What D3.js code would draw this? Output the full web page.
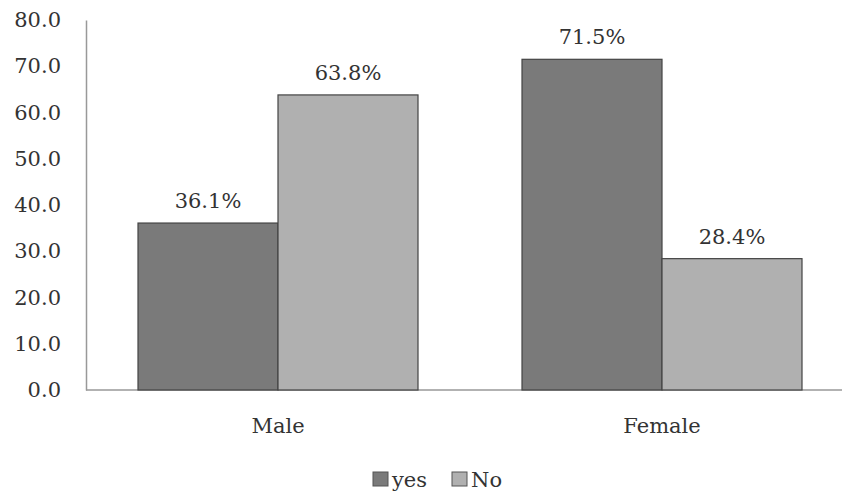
<!DOCTYPE html>
<html>
<head>
<meta charset="utf-8">
<script src="https://cdn.jsdelivr.net/npm/d3@7"></script>
<style>
  body { margin: 0; background: #fff; }
</style>
</head>
<body>
<div id="graph"></div>
<script>
var categories = ['Male', 'Female']
var seriesNames = ['yes', 'No']
var yesValues = [36.1, 71.5]
var noValues = [63.8, 28.4]
var yTicks = [0, 10, 20, 30, 40, 50, 60, 70, 80]

var colors = {yes: '#7a7a7a', No: '#b0b0b0'}
var font = '"DejaVu Serif", serif'

var width = 842, height = 499
var margin = {top: 20, left: 86, right: -12, bottom: 109}

var svg = d3.select('#graph').append('svg')
  .attr('width', width).attr('height', height)
  .attr('font-family', font)

var x = d3.scaleBand()
  .domain(categories)
  .range([margin.left, width - margin.right])

var x1 = d3.scaleBand()
  .domain(seriesNames)
  .range([0, 280])

var y = d3.scaleLinear()
  .domain([0, 80])
  .range([height - margin.bottom, margin.top])

var rows = categories.map((c, i) => ({
  cat: c,
  vals: [{s: 'yes', v: yesValues[i]}, {s: 'No', v: noValues[i]}]
}))

// axes
var yAxis = d3.axisLeft(y).tickValues(yTicks).tickFormat(d3.format('.1f')).tickSize(0).tickPadding(25)
var yg = svg.append('g').attr('transform', 'translate(' + margin.left + ',0)').call(yAxis)
yg.attr('font-family', font)
yg.select('.domain').attr('stroke', '#999').attr('stroke-width', 1.5)
yg.selectAll('text').attr('font-size', 21).attr('fill', '#333')

svg.append('line')
  .attr('x1', margin.left).attr('x2', width)
  .attr('y1', y(0)).attr('y2', y(0))
  .attr('stroke', '#999').attr('stroke-width', 1.5)

var g = svg.selectAll('g.cat').data(rows).enter().append('g')
  .attr('class', 'cat')
  .attr('transform', d => 'translate(' + (x(d.cat) + x.bandwidth() / 2 - 140) + ',0)')

g.selectAll('rect').data(d => d.vals).enter().append('rect')
  .attr('x', d => x1(d.s))
  .attr('width', x1.bandwidth())
  .attr('y', d => y(d.v))
  .attr('height', d => y(0) - y(d.v))
  .attr('fill', d => colors[d.s])
  .attr('stroke', '#444')
  .attr('stroke-width', 1.2)

g.selectAll('text.val').data(d => d.vals).enter().append('text')
  .attr('class', 'val')
  .attr('x', d => x1(d.s) + x1.bandwidth() / 2)
  .attr('y', d => y(d.v) - 15)
  .attr('text-anchor', 'middle')
  .attr('font-size', 21)
  .attr('fill', '#333')
  .text(d => d.v.toFixed(1) + '%')

svg.selectAll('text.cat').data(categories).enter().append('text')
  .attr('class', 'cat')
  .attr('x', d => x(d) + x.bandwidth() / 2)
  .attr('y', y(0) + 43)
  .attr('text-anchor', 'middle')
  .attr('font-size', 21)
  .attr('fill', '#333')
  .text(d => d)

// legend
var leg = svg.append('g').attr('transform', 'translate(373,472)')
var legX = [0, 79]
seriesNames.forEach((s, i) => {
  leg.append('rect')
    .attr('x', legX[i]).attr('y', 0)
    .attr('width', 15).attr('height', 14)
    .attr('fill', colors[s]).attr('stroke', '#555')
  leg.append('text')
    .attr('x', legX[i] + 19).attr('y', 15)
    .attr('font-size', 21)
    .attr('fill', '#333')
    .text(s)
})
</script>
</body>
</html>
